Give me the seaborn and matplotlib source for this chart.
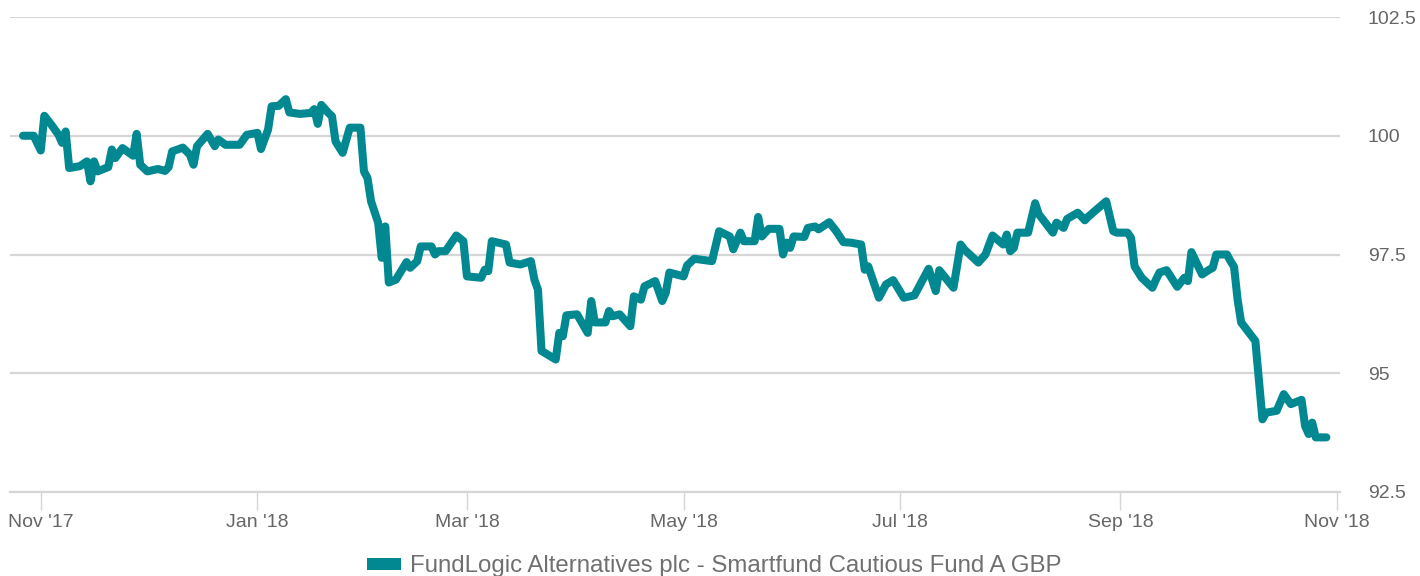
import pandas as pd
import seaborn as sns
import matplotlib.dates as mdates
from matplotlib import pyplot as plt
from matplotlib.patches import Patch

# values (fund price, rebased to 100)
dates = [
    '2017-10-27', '2017-10-30', '2017-11-01', '2017-11-02', '2017-11-04', '2017-11-06',
    '2017-11-07', '2017-11-08', '2017-11-09', '2017-11-12', '2017-11-14', '2017-11-15',
    '2017-11-16', '2017-11-17', '2017-11-20', '2017-11-21', '2017-11-22', '2017-11-24',
    '2017-11-27', '2017-11-28', '2017-11-29', '2017-12-01', '2017-12-04', '2017-12-06',
    '2017-12-07', '2017-12-08', '2017-12-11', '2017-12-13', '2017-12-14', '2017-12-15',
    '2017-12-18', '2017-12-20', '2017-12-21', '2017-12-23', '2017-12-27', '2017-12-29',
    '2018-01-01', '2018-01-02', '2018-01-04', '2018-01-05', '2018-01-07', '2018-01-09',
    '2018-01-10', '2018-01-13', '2018-01-16', '2018-01-17', '2018-01-18', '2018-01-19',
    '2018-01-21', '2018-01-22', '2018-01-23', '2018-01-25', '2018-01-27', '2018-01-30',
    '2018-01-31', '2018-02-01', '2018-02-02', '2018-02-04', '2018-02-05', '2018-02-06',
    '2018-02-07', '2018-02-09', '2018-02-12', '2018-02-13', '2018-02-15', '2018-02-16',
    '2018-02-19', '2018-02-20', '2018-02-21', '2018-02-23', '2018-02-26', '2018-02-28',
    '2018-03-01', '2018-03-05', '2018-03-06', '2018-03-07', '2018-03-08', '2018-03-12',
    '2018-03-13', '2018-03-16', '2018-03-19', '2018-03-20', '2018-03-21', '2018-03-22',
    '2018-03-26', '2018-03-27', '2018-03-28', '2018-03-29', '2018-04-01', '2018-04-04',
    '2018-04-05', '2018-04-06', '2018-04-09', '2018-04-10', '2018-04-11', '2018-04-13',
    '2018-04-16', '2018-04-17', '2018-04-19', '2018-04-20', '2018-04-23', '2018-04-25',
    '2018-04-26', '2018-04-27', '2018-05-01', '2018-05-02', '2018-05-04', '2018-05-09',
    '2018-05-11', '2018-05-14', '2018-05-15', '2018-05-17', '2018-05-18', '2018-05-21',
    '2018-05-22', '2018-05-23', '2018-05-25', '2018-05-28', '2018-05-29', '2018-05-30',
    '2018-05-31', '2018-06-01', '2018-06-04', '2018-06-05', '2018-06-07', '2018-06-08',
    '2018-06-11', '2018-06-13', '2018-06-15', '2018-06-17', '2018-06-20', '2018-06-21',
    '2018-06-22', '2018-06-25', '2018-06-27', '2018-06-29', '2018-07-02', '2018-07-05',
    '2018-07-09', '2018-07-11', '2018-07-12', '2018-07-16', '2018-07-18', '2018-07-19',
    '2018-07-23', '2018-07-25', '2018-07-27', '2018-07-30', '2018-07-31', '2018-08-01',
    '2018-08-02', '2018-08-03', '2018-08-06', '2018-08-08', '2018-08-09', '2018-08-13',
    '2018-08-14', '2018-08-16', '2018-08-17', '2018-08-20', '2018-08-22', '2018-08-23',
    '2018-08-28', '2018-08-30', '2018-08-31', '2018-09-03', '2018-09-04', '2018-09-05',
    '2018-09-07', '2018-09-10', '2018-09-11', '2018-09-12', '2018-09-14', '2018-09-17',
    '2018-09-19', '2018-09-20', '2018-09-21', '2018-09-24', '2018-09-26', '2018-09-27',
    '2018-09-28', '2018-10-01', '2018-10-02', '2018-10-03', '2018-10-04', '2018-10-05',
    '2018-10-09', '2018-10-11', '2018-10-12', '2018-10-15', '2018-10-17', '2018-10-19',
    '2018-10-22', '2018-10-23', '2018-10-24', '2018-10-25', '2018-10-26', '2018-10-29',
]
prices = [
    100.00, 100.00, 99.69, 100.42, 100.23, 100.02,
    99.85, 100.09, 99.32, 99.36, 99.46, 99.04,
    99.46, 99.25, 99.34, 99.71, 99.53, 99.74,
    99.58, 100.04, 99.39, 99.25, 99.30, 99.26,
    99.34, 99.67, 99.75, 99.60, 99.39, 99.78,
    100.04, 99.78, 99.92, 99.81, 99.81, 100.02,
    100.06, 99.72, 100.13, 100.62, 100.63, 100.77,
    100.49, 100.46, 100.48, 100.56, 100.25, 100.65,
    100.48, 100.41, 99.88, 99.64, 100.17, 100.17,
    99.25, 99.11, 98.62, 98.17, 97.43, 98.09,
    96.91, 96.97, 97.34, 97.22, 97.36, 97.67,
    97.67, 97.50, 97.57, 97.57, 97.90, 97.78,
    97.04, 97.01, 97.18, 97.15, 97.78, 97.71,
    97.33, 97.29, 97.36, 96.97, 96.76, 95.47,
    95.29, 95.85, 95.78, 96.22, 96.24, 95.85,
    96.52, 96.07, 96.07, 96.31, 96.20, 96.24,
    95.99, 96.62, 96.55, 96.83, 96.94, 96.52,
    96.70, 97.12, 97.04, 97.27, 97.41, 97.36,
    97.99, 97.88, 97.61, 97.96, 97.78, 97.78,
    98.29, 97.88, 98.04, 98.04, 97.50, 97.75,
    97.64, 97.88, 97.87, 98.06, 98.09, 98.03,
    98.18, 97.99, 97.76, 97.75, 97.71, 97.18,
    97.25, 96.59, 96.87, 96.96, 96.59, 96.64,
    97.20, 96.73, 97.17, 96.80, 97.71, 97.61,
    97.33, 97.50, 97.90, 97.71, 97.92, 97.57,
    97.64, 97.96, 97.96, 98.58, 98.35, 97.96,
    98.17, 98.06, 98.25, 98.38, 98.22, 98.30,
    98.62, 97.99, 97.96, 97.96, 97.85, 97.25,
    97.01, 96.80, 96.97, 97.12, 97.17, 96.82,
    97.01, 96.94, 97.55, 97.08, 97.18, 97.22,
    97.50, 97.50, 97.36, 97.24, 96.55, 96.07,
    95.68, 94.03, 94.17, 94.21, 94.56, 94.35,
    94.44, 93.89, 93.72, 93.96, 93.65, 93.65,
]
y_ticks = [92.5, 95, 97.5, 100, 102.5]
y_labels = ['92.5', '95', '97.5', '100', '102.5']
series_name = 'FundLogic Alternatives plc - Smartfund Cautious Fund A GBP'

df = pd.DataFrame({'date': pd.to_datetime(dates), 'price': prices})

teal = '#028891'
grid_col = '#d6d6d6'
text_col = '#666666'

sns.set_style('white')
plt.rcParams['font.family'] = ['Liberation Sans', 'DejaVu Sans']

fig = plt.figure(figsize=(14.2, 5.76), dpi=100)
ax = fig.add_axes([10 / 1420, 1 - 492 / 576, 1330 / 1420, 475 / 576])

sns.lineplot(data=df, x='date', y='price', ax=ax, color=teal, linewidth=5.8,
             solid_capstyle='round', solid_joinstyle='round', zorder=3)

ax.set_ylim(92.5, 102.5)
ax.set_xlim(pd.Timestamp('2017-10-23 08:00'), pd.Timestamp('2018-11-01 20:00'))
ax.set_yticks(y_ticks)
ax.set_yticklabels(y_labels)
ax.yaxis.tick_right()
ax.grid(axis='y', color=grid_col, linewidth=1.6, zorder=0)
ax.grid(axis='x', visible=False)

ax.xaxis.set_major_locator(mdates.MonthLocator(bymonth=[1, 3, 5, 7, 9, 11]))
ax.xaxis.set_major_formatter(mdates.DateFormatter("%b '%y"))

ax.tick_params(axis='y', length=0, pad=20, labelsize=14, labelcolor=text_col)
ax.tick_params(axis='x', length=13, width=1, color=grid_col, pad=3,
               labelsize=14, labelcolor=text_col, bottom=True)

for side in ['top', 'left', 'right']:
    ax.spines[side].set_visible(False)
ax.spines['bottom'].set_color(grid_col)
ax.spines['bottom'].set_linewidth(1.6)

ax.set_xlabel('')
ax.set_ylabel('')
if ax.get_legend():
    ax.get_legend().remove()

handle = Patch(facecolor=teal, edgecolor='none', label=series_name)
fig.legend(handles=[handle], loc='lower center', bbox_to_anchor=(0.503, -0.04),
           frameon=False, fontsize=17.3, labelcolor='#707070',
           handlelength=1.4, handleheight=0.42, handletextpad=0.4)

fig.savefig('out.png', dpi=100)
